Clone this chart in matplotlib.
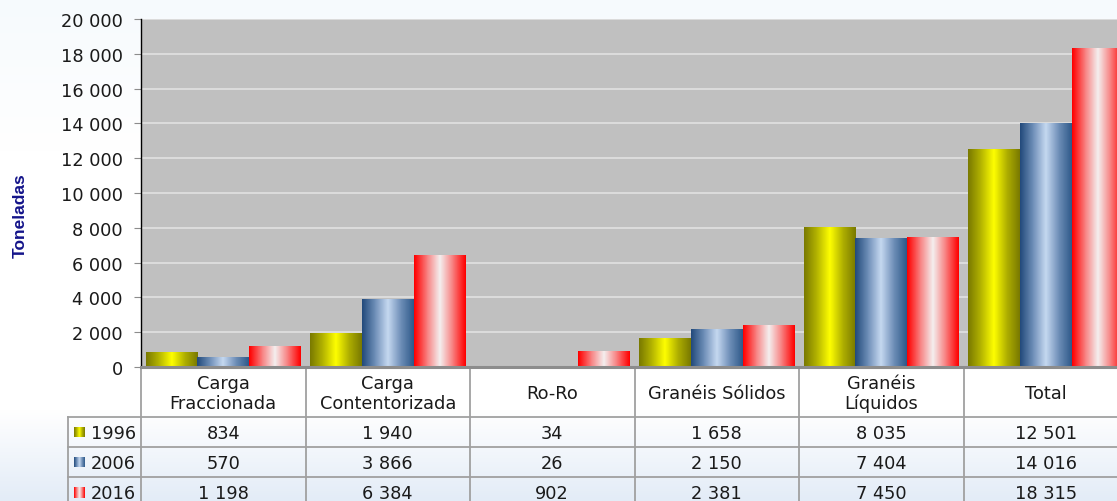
import numpy as np
import matplotlib
matplotlib.use("Agg")
import matplotlib.pyplot as plt
from matplotlib.colors import LinearSegmentedColormap, to_rgb

categories = ["Carga\nFraccionada", "Carga\nContentorizada", "Ro-Ro",
              "Granéis Sólidos", "Granéis\nLíquidos", "Total"]
years = ["1996", "2006", "2016"]
v1996 = [834, 1940, 34, 1658, 8035, 12501]
v2006 = [570, 3866, 26, 2150, 7404, 14016]
v2016 = [1198, 6384, 902, 2381, 7450, 18315]
series = [v1996, v2006, v2016]
yticks = list(range(0, 20001, 2000))

grad_stops = [
    ["#7a7a00", "#b5b500", "#ffff00", "#b0b000", "#7a7a00"],
    ["#234b7c", "#6f8fb8", "#c6d9f1", "#6f8fb8", "#2f5a8a"],
    ["#ff0000", "#f88080", "#f4f0f0", "#f88080", "#ff0000"],
]

def fmt(v):
    return f"{v:,}".replace(",", " ")

def gradient_row(stops, n=64):
    cmap = LinearSegmentedColormap.from_list("g", [to_rgb(c) for c in stops])
    return cmap(np.linspace(0, 1, n))[np.newaxis, :, :3]

W, H = 1117, 502
fig = plt.figure(figsize=(W / 100, H / 100), dpi=100)

# figure background gradient + pixel-space overlay axes
bg = fig.add_axes([0, 0, 1, 1], zorder=-10)
bgcmap = LinearSegmentedColormap.from_list(
    "bg", [(0.0, "#f6fafd"), (0.3, "#ffffff"), (0.82, "#ffffff"), (1.0, "#e3ecf7")])
bgimg = bgcmap(np.linspace(0, 1, 256))[:, None, :3].repeat(2, axis=1)
bg.imshow(bgimg, aspect="auto", extent=(0, W, H, 0))
bg.set_xlim(0, W)
bg.set_ylim(H, 0)
bg.axis("off")

left, right, topp, zero = 141, 1128, 20, 368
ax = fig.add_axes([left / W, 1 - zero / H, (right - left) / W, (zero - topp) / H])
ax.set_facecolor("#c0c0c0")

x = np.arange(len(categories))
bw = 0.314
offsets = [-bw, 0, bw]
for i, vals in enumerate(series):
    bars = ax.bar(x + offsets[i], vals, width=bw, color=grad_stops[i][2], zorder=2)
    g = gradient_row(grad_stops[i])
    for r in bars:
        x0 = r.get_x()
        ax.imshow(g, extent=(x0, x0 + r.get_width(), 0, r.get_height()),
                  aspect="auto", interpolation="bilinear", zorder=3)
        r.set_visible(False)

ax.set_xlim(-0.5, len(categories) - 0.5)
ax.set_ylim(0, 20000)
ax.set_aspect("auto")
ax.set_yticks(yticks)
ax.set_yticklabels([fmt(v) for v in yticks],
                   fontsize=12.8, color="#1a1a1a", family="DejaVu Sans")
ax.set_xticks([])
ax.yaxis.grid(True, color="#dedede", lw=1.3, zorder=1)
ax.set_axisbelow(True)
ax.tick_params(axis="y", direction="out", length=5, color="#8c8c8c", pad=8)
ax.spines["top"].set_visible(False)
ax.spines["right"].set_visible(False)
ax.spines["left"].set_color("black")
ax.spines["left"].set_linewidth(1.0)
ax.spines["bottom"].set_color("#8c8c8c")
ax.spines["bottom"].set_linewidth(2.2)
ax.spines["bottom"].set_zorder(5)

fig.text(20 / W, 1 - 216 / H, "Toneladas", rotation=90, ha="center", va="center",
         fontsize=12.5, fontweight="bold", color="#14148a", family="Liberation Sans")

# data table drawn in pixel space
lc, lw = "#a0a0a0", 1.3
colw = (right - left) / len(categories)
lab_left = 68
hdr_bot = 418
rowh = 30
fs = 12.8
txtc = "#1a1a1a"
for k in range(len(categories) + 1):
    xx = left + k * colw
    bg.plot([xx, xx], [zero, H + 5], color=lc, lw=lw, zorder=2)
bg.plot([lab_left, lab_left], [hdr_bot, H + 5], color=lc, lw=lw, zorder=2)
for r in range(len(years)):
    yy = hdr_bot + r * rowh
    bg.plot([lab_left, W + 20], [yy, yy], color=lc, lw=lw, zorder=2)
for k, cat in enumerate(categories):
    bg.text(left + (k + 0.5) * colw, (zero + hdr_bot) / 2 + 1, cat, ha="center",
            va="center", fontsize=fs, color=txtc, linespacing=1.1)
for r, (yr, vals) in enumerate(zip(years, series)):
    yc = hdr_bot + (r + 0.5) * rowh + 1
    bg.text(left - 5, yc, yr, ha="right", va="center", fontsize=fs, color=txtc)
    for k, v in enumerate(vals):
        bg.text(left + (k + 0.5) * colw, yc, fmt(v), ha="center", va="center",
                fontsize=fs, color=txtc)
    sw = fig.add_axes([74 / W, 1 - (yc - 1 + 5.5) / H, 11 / W, 11 / H])
    sw.imshow(gradient_row(grad_stops[r]), aspect="auto", interpolation="bilinear")
    sw.axis("off")

fig.savefig("out.png", dpi=100)
